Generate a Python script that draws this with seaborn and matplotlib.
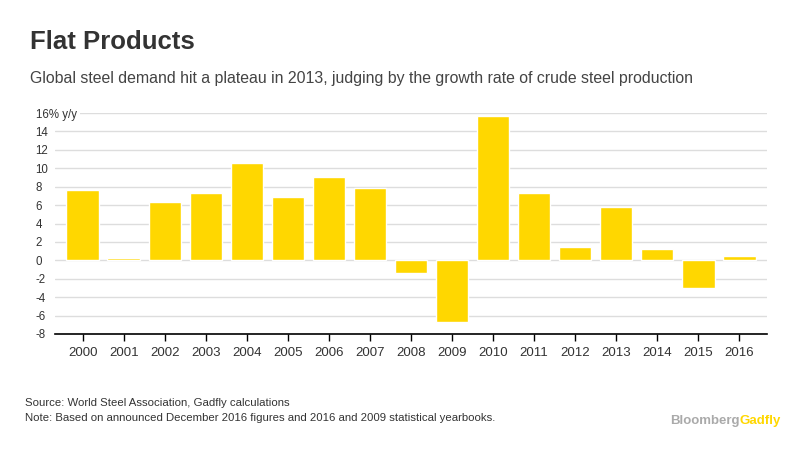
import pandas as pd
import matplotlib.pyplot as plt
import seaborn as sns

# datos: crecimiento anual de la producción de acero crudo (% y/y)
years = ['2000', '2001', '2002', '2003', '2004', '2005', '2006', '2007', '2008',
         '2009', '2010', '2011', '2012', '2013', '2014', '2015', '2016']
growth = [7.6, 0.3, 6.3, 7.3, 10.6, 6.9, 9.0, 7.9, -1.4,
          -6.7, 15.7, 7.3, 1.4, 5.8, 1.2, -3.0, 0.5]
yticks = [-8, -6, -4, -2, 0, 2, 4, 6, 8, 10, 12, 14, 16]

df = pd.DataFrame({'year': years, 'growth': growth})

sns.set_style('white')
plt.rcParams['font.family'] = ['Liberation Sans', 'DejaVu Sans']

fig = plt.figure(figsize=(8.12, 4.58), dpi=100)
ax = fig.add_axes([55 / 812, 1 - 334 / 458, (767 - 55) / 812, (334 - 113) / 458])

sns.barplot(x='year', y='growth', data=df, color='#FFD700', saturation=1,
            width=0.8, ax=ax, zorder=3)

ax.set_xlim(-0.68, 16.68)
ax.set_ylim(-8, 16)
ax.set_yticks(yticks)
ax.set_yticklabels(['16% y/y' if t == 16 else str(t) for t in yticks],
                   fontsize=8.3, color='#333333', ha='left')
ax.tick_params(axis='y', length=0, pad=14)
ax.tick_params(axis='x', length=5, width=1, color='black', labelsize=9.5,
               labelcolor='#333333', pad=4, direction='out', bottom=True)
ax.yaxis.grid(True, color='#dddddd', linewidth=1, zorder=0)
ax.set_xlabel('')
ax.set_ylabel('')
for s in ['top', 'right', 'left']:
    ax.spines[s].set_visible(False)
ax.spines['bottom'].set_color('black')
ax.spines['bottom'].set_linewidth(1.2)

# fondo blanco detrás de la etiqueta 16% y/y
for lbl in ax.get_yticklabels():
    if lbl.get_text().startswith('16'):
        lbl.set_bbox(dict(facecolor='white', edgecolor='none', pad=2.5))
        lbl.set_zorder(5)

fig.text(30 / 812, 1 - 42 / 458, 'Flat Products', fontsize=18.5, fontweight='bold',
         color='#333333', va='center')
fig.text(30 / 812, 1 - 79 / 458,
         'Global steel demand hit a plateau in 2013, judging by the growth rate of crude steel production',
         fontsize=11.4, color='#444444', va='center')
fig.text(25 / 812, 1 - 403 / 458, 'Source: World Steel Association, Gadfly calculations',
         fontsize=8.2, color='#333333', va='center')
fig.text(25 / 812, 1 - 418 / 458,
         'Note: Based on announced December 2016 figures and 2016 and 2009 statistical yearbooks.',
         fontsize=8.2, color='#333333', va='center')
t1 = fig.text(670 / 812, 1 - 421 / 458, 'Bloomberg', fontsize=9.5, fontweight='bold',
              color='#aaaaaa', va='center')
fig.canvas.draw()
bb = t1.get_window_extent()
fig.text(bb.x1 / fig.bbox.width, 1 - 421 / 458, 'Gadfly', fontsize=9.5, fontweight='bold',
         color='#FFD700', va='center')

fig.savefig('out.png', dpi=100)
